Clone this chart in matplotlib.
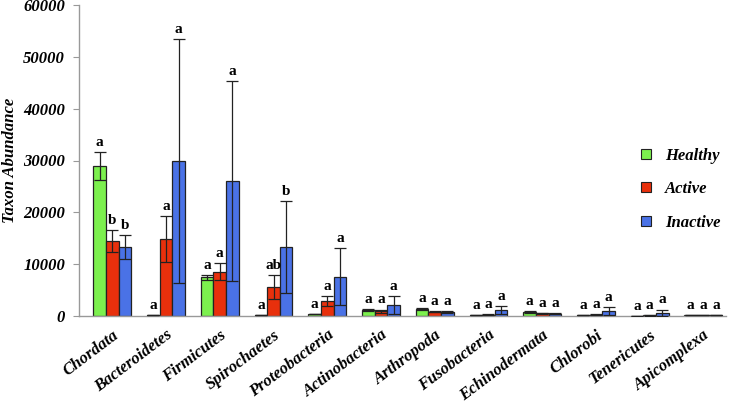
import matplotlib
matplotlib.use("Agg")
import matplotlib.pyplot as plt
import numpy as np
from matplotlib.lines import Line2D

# 各门类的平均丰度与误差
taxa = ["Chordata", "Bacteroidetes", "Firmicutes", "Spirochaetes", "Proteobacteria",
        "Actinobacteria", "Arthropoda", "Fusobacteria", "Echinodermata", "Chlorobi",
        "Tenericutes", "Apicomplexa"]
groups = ["Healthy", "Active", "Inactive"]

healthy = [28900, 200, 7470, 150, 450, 1160, 1400, 100, 770, 100, 50, 250]
active = [14450, 14800, 8550, 5650, 2850, 950, 830, 200, 500, 250, 150, 100]
inactive = [13350, 29900, 26100, 13250, 7580, 2100, 770, 1160, 450, 960, 640, 100]

healthy_err = [2700, 0, 500, 0, 0, 200, 150, 0, 100, 0, 0, 0]
active_err = [2100, 4400, 1700, 2300, 1000, 300, 150, 100, 100, 100, 100, 0]
inactive_err = [2300, 23500, 19300, 8900, 5500, 1700, 100, 770, 100, 800, 600, 0]

healthy_sig = ["a"] * 12
active_sig = ["b", "a", "a", "ab", "a", "a", "a", "a", "a", "a", "a", "a"]
inactive_sig = ["b", "a", "a", "b", "a", "a", "a", "a", "a", "a", "a", "a"]

COLORS = ["#7cf04e", "#e8300c", "#4a72e6"]
SERIF = "Liberation Serif"


def main():
    fig = plt.figure(figsize=(7.35, 4.13), dpi=100)
    ax = fig.add_axes([79 / 735, 1 - 316 / 413, (726 - 79) / 735, (316 - 5) / 413])

    x = np.arange(len(taxa))
    width = 0.235
    series = [
        (healthy, healthy_err, healthy_sig),
        (active, active_err, active_sig),
        (inactive, inactive_err, inactive_sig),
    ]
    for i, (vals, errs, sigs) in enumerate(series):
        pos = x + (i - 1) * width
        ax.bar(pos, vals, width=width, color=COLORS[i], edgecolor="#222222",
               linewidth=0.9, zorder=2)
        # 误差线上下两段都画（柱内也可见）
        ax.errorbar(pos, vals, yerr=errs, fmt="none",
                    ecolor="#222222", elinewidth=0.9, capsize=4, capthick=0.9,
                    zorder=3)
        for p, v, er, s in zip(pos, vals, errs, sigs):
            ax.text(p, v + er + 600, s, ha="center", va="bottom",
                    fontsize=11, fontweight="bold", family=SERIF)

    ax.set_xlim(-0.62, 11.42)
    ax.set_ylim(0, 60000)
    ax.set_yticks(range(0, 60001, 10000))
    ax.set_yticklabels([str(v) for v in range(0, 60001, 10000)],
                       fontsize=12, fontweight="bold", style="italic", family=SERIF)
    ax.set_xticks(x)
    ax.set_xticklabels(taxa, rotation=37, ha="right", rotation_mode="anchor",
                       fontsize=12, fontweight="bold", style="italic", family=SERIF)
    ax.tick_params(axis="x", length=0, pad=8)
    ax.tick_params(axis="y", length=4, color="#999999", pad=6)
    ax.set_ylabel("Taxon Abundance", fontsize=12, fontweight="bold",
                  style="italic", family=SERIF, labelpad=4)

    for side in ["top", "right"]:
        ax.spines[side].set_visible(False)
    for side in ["left", "bottom"]:
        ax.spines[side].set_color("#999999")
        ax.spines[side].set_linewidth(1.0)

    handles = [Line2D([], [], marker="s", linestyle="none", markersize=7,
                      markerfacecolor=c, markeredgecolor="#222222",
                      markeredgewidth=0.8) for c in COLORS]
    ax.legend(handles, groups, loc="upper left", bbox_to_anchor=(0.828, 0.59),
              frameon=False, handletextpad=0.1, labelspacing=1.05,
              prop={"family": SERIF, "weight": "bold", "style": "italic", "size": 12})

    fig.savefig("out.png", dpi=100)
    plt.close(fig)


if __name__ == "__main__":
    main()
